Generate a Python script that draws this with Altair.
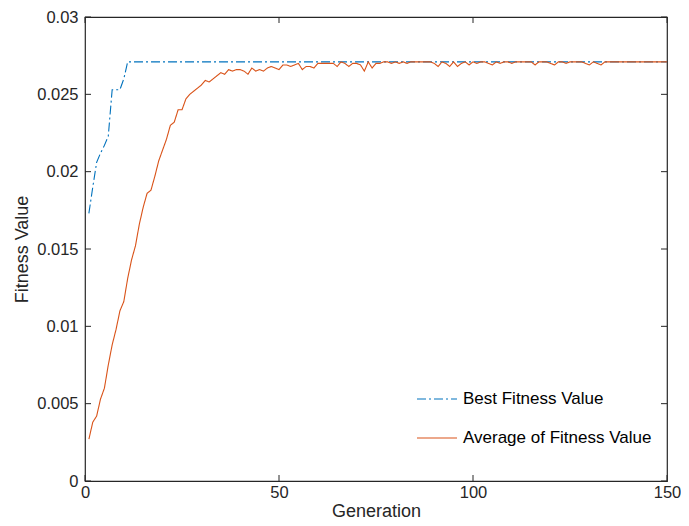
import altair as alt
import pandas as pd

generations = list(range(1, 151))

best_fitness = [0.0173, 0.0190, 0.0206, 0.0212, 0.0217, 0.0223, 0.0253, 0.0253, 0.0253, 0.0260,
                0.0271] + [0.0271] * 139

avg_fitness = [
    0.0027, 0.0038, 0.0042, 0.0053, 0.0060, 0.0075, 0.0088, 0.0098, 0.0110, 0.0116,
    0.0131, 0.0143, 0.0152, 0.0166, 0.0177, 0.0186, 0.0188, 0.0197, 0.0207, 0.0214,
    0.0221, 0.0230, 0.0232, 0.0240, 0.0240, 0.0247, 0.0250, 0.0252, 0.0254, 0.0256,
    0.0259, 0.0258, 0.0260, 0.0262, 0.0264, 0.0263, 0.0266, 0.0265, 0.0266, 0.0266,
    0.0265, 0.0263, 0.0267, 0.0265, 0.0266, 0.0265, 0.0267, 0.0268, 0.0267, 0.0266,
    0.0269, 0.0269, 0.0268, 0.0269, 0.0270, 0.0266, 0.0268, 0.0268, 0.0267, 0.0270,
    0.0270, 0.0270, 0.0270, 0.0270, 0.0268, 0.0271, 0.0270, 0.0268, 0.0270, 0.0270,
    0.0269, 0.0265, 0.0271, 0.0267, 0.0270, 0.0270, 0.0271, 0.0271, 0.0270, 0.0271,
    0.0270, 0.0271, 0.0270, 0.0271, 0.0271, 0.0271, 0.0271, 0.0271, 0.0271, 0.0270,
    0.0268, 0.0271, 0.0270, 0.0268, 0.0271, 0.0268, 0.0270, 0.0271, 0.0269, 0.0271,
    0.0270, 0.0271, 0.0271, 0.0270, 0.0269, 0.0271, 0.0270, 0.0271, 0.0271, 0.0270,
    0.0271, 0.0271, 0.0271, 0.0271, 0.0271, 0.0269, 0.0271, 0.0271, 0.0271, 0.0270,
    0.0269, 0.0271, 0.0271, 0.0270, 0.0271, 0.0271, 0.0271, 0.0271, 0.0270, 0.0269,
    0.0271, 0.0270, 0.0269, 0.0271, 0.0271, 0.0271, 0.0271, 0.0271, 0.0271, 0.0271,
    0.0271, 0.0271, 0.0271, 0.0271, 0.0271, 0.0271, 0.0271, 0.0271, 0.0271, 0.0271,
]

series_names = ["Best Fitness Value", "Average of Fitness Value"]
series_colors = ["#0072BD", "#D95319"]
x_ticks = [0, 50, 100, 150]
y_ticks = [0, 0.005, 0.01, 0.015, 0.02, 0.025, 0.03]

W, H = 582, 464
FONT = "Liberation Sans"
AX = "#262626"

df = pd.DataFrame({
    "Generation": generations * 2,
    "Fitness": best_fitness + avg_fitness,
    "Series": [series_names[0]] * len(generations) + [series_names[1]] * len(generations),
})

x_scale = alt.Scale(domain=[0, 150], nice=False, zero=False)
y_scale = alt.Scale(domain=[0, 0.03], nice=False)


def make_legend():
    return alt.Legend(title=None, orient="none", legendX=331, legendY=361,
                      symbolType="stroke", symbolSize=1600, symbolStrokeWidth=1.1,
                      labelOffset=5, labelFontSize=17, labelFont=FONT, labelColor="#000000",
                      labelLimit=0, rowPadding=10, padding=0)


lines = alt.Chart(df).mark_line(strokeWidth=1.1).encode(
    x=alt.X("Generation:Q", scale=x_scale,
            axis=alt.Axis(values=x_ticks, title="Generation", ticks=False, domain=False,
                          grid=False, labelPadding=3, titlePadding=2, format="d",
                          labelFlush=False,
                          labelFont=FONT, titleFont=FONT, labelFontSize=16.5, titleFontSize=18,
                          labelColor=AX, titleColor=AX, titleFontWeight="normal")),
    y=alt.Y("Fitness:Q", scale=y_scale,
            axis=alt.Axis(values=y_ticks, title="Fitness Value", ticks=False, domain=False,
                          grid=False, labelPadding=7, titlePadding=5, format=".3~f",
                          labelFlush=False,
                          labelFont=FONT, titleFont=FONT, labelFontSize=16.5, titleFontSize=18,
                          labelColor=AX, titleColor=AX, titleFontWeight="normal")),
    color=alt.Color("Series:N", sort=series_names,
                    scale=alt.Scale(domain=series_names, range=series_colors),
                    legend=make_legend()),
    strokeDash=alt.StrokeDash("Series:N", sort=series_names,
                              scale=alt.Scale(domain=series_names, range=[[9, 3, 2, 3], [1, 0]]),
                              legend=make_legend()),
)

xt = pd.DataFrame({"t": x_ticks})
yt = pd.DataFrame({"t": y_ticks})
TL = 6

xb = alt.Chart(xt).mark_rule(color=AX, strokeWidth=1).encode(
    x=alt.X("t:Q", scale=x_scale), y=alt.value(H), y2=alt.value(H - TL))
xtop = alt.Chart(xt).mark_rule(color=AX, strokeWidth=1).encode(
    x=alt.X("t:Q", scale=x_scale), y=alt.value(0), y2=alt.value(TL))
yl = alt.Chart(yt).mark_rule(color=AX, strokeWidth=1).encode(
    y=alt.Y("t:Q", scale=y_scale), x=alt.value(0), x2=alt.value(TL))
yr = alt.Chart(yt).mark_rule(color=AX, strokeWidth=1).encode(
    y=alt.Y("t:Q", scale=y_scale), x=alt.value(W), x2=alt.value(W - TL))

chart = alt.layer(lines, xb, xtop, yl, yr).properties(
    width=W, height=H,
    autosize=alt.AutoSizeParams(type="none"),
    padding={"left": 77, "top": 9, "right": 14, "bottom": 42},
    background="white",
).configure_view(
    stroke=AX, strokeWidth=1.2
)

chart.save("out.html", embed_options={"renderer": "svg", "actions": False})
